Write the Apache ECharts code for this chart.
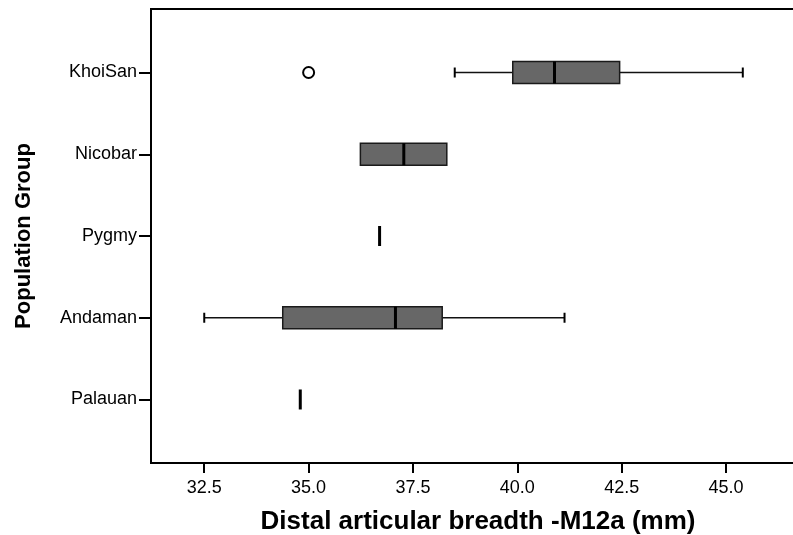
<!DOCTYPE html>
<html>
<head>
<meta charset="utf-8">
<script src="https://cdn.jsdelivr.net/npm/echarts@6/dist/echarts.min.js"></script>
<style>
html,body{margin:0;padding:0;background:#fff;}
#c{width:793px;height:535px;}
</style>
</head>
<body>
<div id="c"></div>
<script>
// Population groups, top to bottom
var groups = ['KhoiSan', 'Nicobar', 'Pygmy', 'Andaman', 'Palauan'];
var whiskerLow  = [38.50, 36.24, 36.70, 32.50, 34.80];
var q1          = [39.89, 36.24, 36.70, 34.38, 34.80];
var median      = [40.89, 37.28, 36.70, 37.08, 34.80];
var q3          = [42.45, 38.31, 36.70, 38.20, 34.80];
var whiskerHigh = [45.40, 38.31, 36.70, 41.13, 34.80];
// outliers: group index, value
var outlierGroup = [0];
var outlierValue = [35.0];
var xTicks = [32.5, 35.0, 37.5, 40.0, 42.5, 45.0];

var boxData = groups.map(function (g, i) {
  return [i, whiskerLow[i], q1[i], median[i], q3[i], whiskerHigh[i]];
});
var outlierData = outlierGroup.map(function (g, i) { return [outlierValue[i], g]; });

var chart = echarts.init(document.getElementById('c'), null, {renderer: 'canvas'});
var FONT = '"Liberation Sans", Arial, sans-serif';

chart.setOption({
  animation: false,
  backgroundColor: '#fff',
  grid: {
    left: 151, top: 9, right: -12, bottom: 72,
    outerBoundsMode: 'none', containLabel: false,
    show: true, borderColor: '#000', borderWidth: 2, backgroundColor: 'transparent'
  },
  xAxis: {
    type: 'value',
    min: 31.2245, max: 46.89,
    splitLine: {show: false},
    axisLine: {show: true, onZero: false, lineStyle: {color: '#000', width: 2}},
    axisTick: {show: true, customValues: xTicks, length: 10, lineStyle: {color: '#000', width: 2}},
    axisLabel: {
      customValues: xTicks, margin: 16, color: '#000', fontSize: 18, fontFamily: FONT,
      formatter: function (v) { return v.toFixed(1); }
    },
    name: 'Distal articular breadth -M12a (mm)',
    nameLocation: 'middle', nameGap: 46,
    nameTextStyle: {color: '#000', fontSize: 26, fontWeight: 'bold', fontFamily: FONT}
  },
  yAxis: {
    type: 'value',
    inverse: true,
    min: -0.777, max: 4.777,
    splitLine: {show: false},
    axisLine: {show: true, onZero: false, lineStyle: {color: '#000', width: 2}},
    axisTick: {show: true, customValues: [0, 1, 2, 3, 4], length: 12, lineStyle: {color: '#000', width: 2}},
    axisLabel: {
      customValues: [0, 1, 2, 3, 4], margin: 14, color: '#000', fontSize: 18, fontFamily: FONT,
      formatter: function (v) { return groups[Math.round(v)]; }
    },
    name: 'Population Group',
    nameLocation: 'middle', nameGap: 116,
    nameTextStyle: {color: '#000', fontSize: 22, fontWeight: 'bold', fontFamily: FONT}
  },
  series: [
    {
      type: 'custom',
      data: boxData,
      encode: {x: [1, 2, 3, 4, 5], y: 0},
      renderItem: function (params, api) {
        var yi = api.value(0);
        var pLow = api.coord([api.value(1), yi]);
        var pQ1 = api.coord([api.value(2), yi]);
        var pMed = api.coord([api.value(3), yi]);
        var pQ3 = api.coord([api.value(4), yi]);
        var pHigh = api.coord([api.value(5), yi]);
        var cy = pMed[1];
        var h = 22, capH = 10;
        var children = [];
        var lineStyle = {stroke: '#111', lineWidth: 1.5};
        if (pQ1[0] - pLow[0] > 0.5) {
          children.push({type: 'line', shape: {x1: pLow[0], y1: cy, x2: pQ1[0], y2: cy}, style: lineStyle});
          children.push({type: 'line', shape: {x1: pLow[0], y1: cy - capH / 2, x2: pLow[0], y2: cy + capH / 2}, style: {stroke: '#000', lineWidth: 2}});
        }
        if (pHigh[0] - pQ3[0] > 0.5) {
          children.push({type: 'line', shape: {x1: pQ3[0], y1: cy, x2: pHigh[0], y2: cy}, style: lineStyle});
          children.push({type: 'line', shape: {x1: pHigh[0], y1: cy - capH / 2, x2: pHigh[0], y2: cy + capH / 2}, style: {stroke: '#000', lineWidth: 2}});
        }
        if (pQ3[0] - pQ1[0] > 0.5) {
          children.push({type: 'rect', shape: {x: pQ1[0], y: cy - h / 2, width: pQ3[0] - pQ1[0], height: h},
            style: {fill: '#676767', stroke: '#1a1a1a', lineWidth: 1.5}});
          children.push({type: 'line', shape: {x1: pMed[0], y1: cy - h / 2, x2: pMed[0], y2: cy + h / 2}, style: {stroke: '#000', lineWidth: 3}});
        } else {
          children.push({type: 'line', shape: {x1: pMed[0], y1: cy - 10, x2: pMed[0], y2: cy + 10}, style: {stroke: '#000', lineWidth: 3}});
        }
        return {type: 'group', children: children};
      },
      z: 3
    },
    {
      type: 'scatter',
      data: outlierData,
      symbol: 'circle',
      symbolSize: 11,
      itemStyle: {color: '#fff', borderColor: '#000', borderWidth: 2, opacity: 1},
      z: 4
    }
  ]
});
</script>
</body>
</html>
